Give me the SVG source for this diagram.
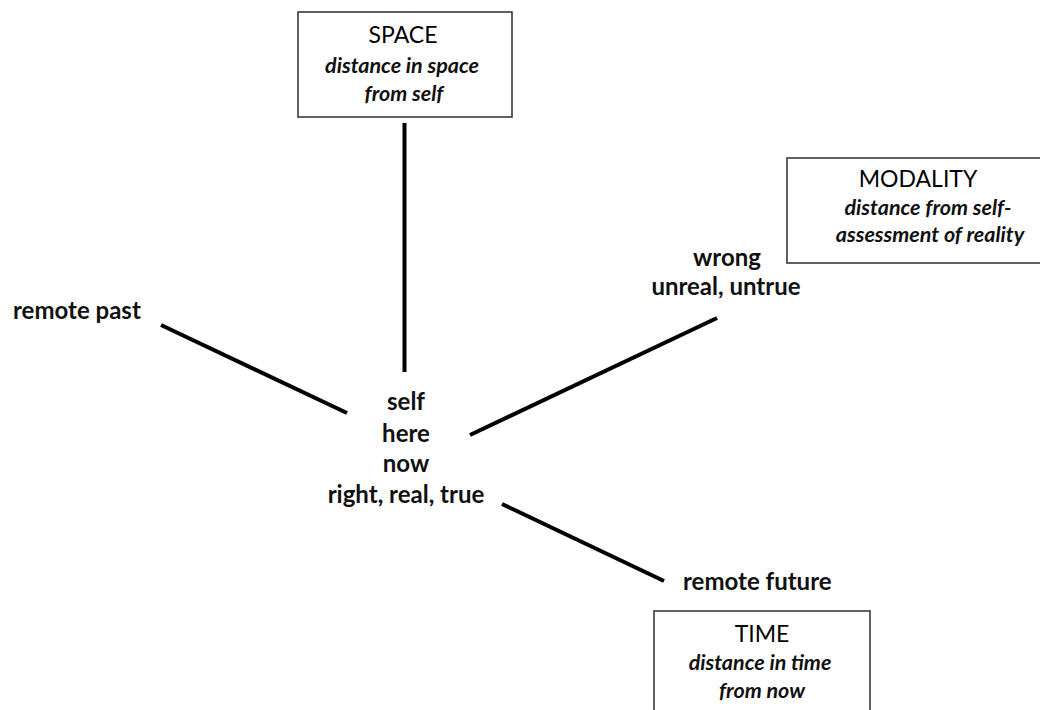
<svg xmlns="http://www.w3.org/2000/svg" width="1040" height="710" viewBox="0 0 1040 710">
  <style>
    .box { fill: #ffffff; stroke: #3a3a3a; stroke-width: 1.6; }
    .title { font-family: Lato, "Liberation Sans", sans-serif; font-size: 23px; fill: #000; text-anchor: middle; }
    .sub { font-family: Lato, "Liberation Sans", sans-serif; font-size: 21.5px; font-weight: bold; font-style: italic; fill: #111; text-anchor: middle; }
    .lbl { font-family: Lato, "Liberation Sans", sans-serif; font-size: 24px; font-weight: bold; fill: #111; }
    .mid { text-anchor: middle; }
    .conn line { stroke: #000; stroke-width: 4; }
  </style>
  <rect width="1040" height="710" fill="#ffffff"/>

  <g id="connectors" class="conn">
    <line x1="404.5" y1="123" x2="404.5" y2="372"/>
    <line x1="161" y1="325" x2="347" y2="413"/>
    <line x1="470" y1="435" x2="717" y2="318"/>
    <line x1="502" y1="504" x2="664" y2="581"/>
  </g>

  <g id="space">
    <rect class="box" x="298" y="12" width="214" height="105"/>
    <text class="title" x="403" y="43">SPACE</text>
    <text class="sub" x="402" y="73">distance in space</text>
    <text class="sub" x="404" y="101">from self</text>
  </g>

  <g id="modality">
    <rect class="box" x="787" y="158" width="260" height="105"/>
    <text class="title" x="918" y="187">MODALITY</text>
    <text class="sub" x="928" y="215">distance from self-</text>
    <text class="sub" x="930" y="242">assessment of reality</text>
  </g>

  <g id="time">
    <rect class="box" x="654" y="611" width="216" height="110"/>
    <text class="title" x="762" y="642">TIME</text>
    <text class="sub" x="760" y="670">distance in time</text>
    <text class="sub" x="762" y="698">from now</text>
  </g>

  <g id="center">
    <text class="lbl mid" x="406" y="410">self</text>
    <text class="lbl mid" x="406" y="442">here</text>
    <text class="lbl mid" x="406" y="472">now</text>
    <text class="lbl mid" x="406" y="503">right, real, true</text>
  </g>

  <g id="remote-past">
    <text class="lbl" x="13" y="319">remote past</text>
  </g>

  <g id="unreal">
    <text class="lbl mid" x="727" y="266">wrong</text>
    <text class="lbl mid" x="726" y="295">unreal, untrue</text>
  </g>

  <g id="remote-future">
    <text class="lbl" x="683" y="590">remote future</text>
  </g>
</svg>
